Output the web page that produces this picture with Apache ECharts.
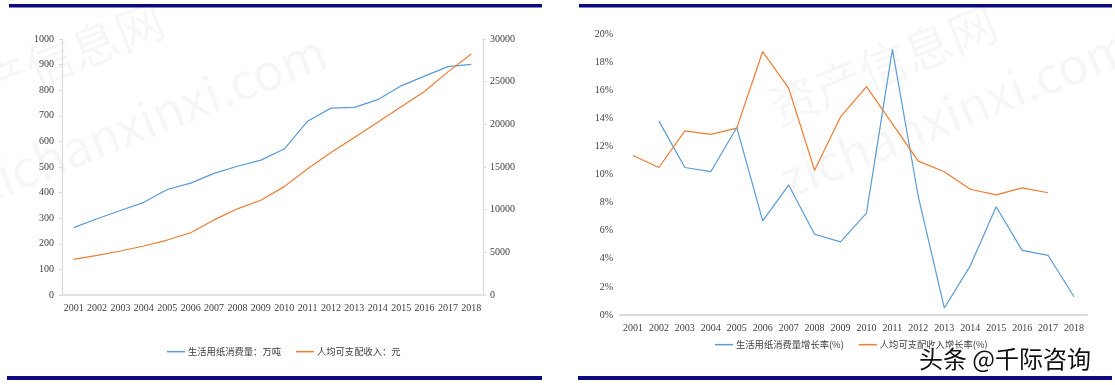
<!DOCTYPE html>
<html>
<head>
<meta charset="utf-8">
<script src="https://cdn.jsdelivr.net/npm/echarts@6/dist/echarts.min.js"></script>
<style>
html,body{margin:0;padding:0;background:#fff;}
#c{width:1115px;height:385px;}
</style>
</head>
<body>
<div id="c"></div>
<script>
var years = ['2001','2002','2003','2004','2005','2006','2007','2008','2009','2010','2011','2012','2013','2014','2015','2016','2017','2018'];
var paperConsumption = [263, 298, 330, 362, 412, 437, 475, 503, 527, 570, 679, 730, 733, 763, 817, 855, 892, 901];
var incomePerCapita = [4180, 4650, 5160, 5740, 6440, 7300, 8800, 10100, 11100, 12700, 14800, 16700, 18450, 20250, 22050, 23850, 26150, 28250];
var paperGrowth = [null, 13.8, 10.5, 10.2, 13.35, 6.7, 9.25, 5.75, 5.2, 7.25, 18.9, 8.4, 0.5, 3.5, 7.7, 4.6, 4.25, 1.3];
var incomeGrowth = [11.35, 10.5, 13.1, 12.85, 13.3, 18.75, 16.15, 10.3, 14.1, 16.25, 13.6, 10.95, 10.2, 8.95, 8.55, 9.05, 8.7, null];
var leftTicks = {min: 0, max: 1000, interval: 100};
var rightTicks = {min: 0, max: 30000, interval: 5000};
var pctTicks = {min: 0, max: 20, interval: 2};
var names = ['生活用纸消费量：万吨', '人均可支配收入：元', '生活用纸消费量增长率(%)', '人均可支配收入增长率(%)'];

var BLUE = '#5B9BD5', ORANGE = '#ED7D31', GRAY = '#D9D9D9', TXT = '#404040';
var serif = 'Liberation Serif';
var cjk = 'Noto Sans CJK SC';

function wm(x, y, text, size) {
  return {type: 'text', x: x, y: y, rotation: 0.38, z: 0, silent: true,
    style: {text: text, font: size + 'px "Noto Sans CJK SC", sans-serif', fill: 'rgba(0,0,0,0.035)', align: 'center', verticalAlign: 'middle'}};
}
function plain(v) { return String(v); }

var chart = echarts.init(document.getElementById('c'), null, {renderer: 'canvas'});
chart.setOption({
  animation: false,
  backgroundColor: '#fff',
  grid: [
    {left: 62, right: 632, top: 39, bottom: 90, containLabel: false},
    {left: 620, right: 28, top: 34, bottom: 70, containLabel: false}
  ],
  xAxis: [
    {type: 'category', gridIndex: 0, data: years, boundaryGap: true,
     axisLine: {lineStyle: {color: GRAY, width: 1.5}}, axisTick: {show: false},
     axisLabel: {margin: 8, interval: 0, color: TXT, fontFamily: serif, fontSize: 10}},
    {type: 'category', gridIndex: 1, data: years, boundaryGap: true,
     axisLine: {lineStyle: {color: GRAY, width: 2}}, axisTick: {show: false},
     axisLabel: {margin: 8, interval: 0, color: TXT, fontFamily: serif, fontSize: 10}}
  ],
  yAxis: [
    {type: 'value', gridIndex: 0, position: 'left', min: leftTicks.min, max: leftTicks.max, interval: leftTicks.interval,
     axisLine: {show: true, lineStyle: {color: GRAY, width: 1.2}}, axisTick: {show: true, length: 3, lineStyle: {color: GRAY}},
     splitLine: {show: false},
     axisLabel: {margin: 8, color: TXT, fontFamily: serif, fontSize: 10, formatter: plain}},
    {type: 'value', gridIndex: 0, position: 'right', min: rightTicks.min, max: rightTicks.max, interval: rightTicks.interval,
     axisLine: {show: true, lineStyle: {color: GRAY, width: 1.2}}, axisTick: {show: true, length: 3, lineStyle: {color: GRAY}},
     splitLine: {show: false},
     axisLabel: {margin: 7, color: TXT, fontFamily: serif, fontSize: 10, formatter: plain}},
    {type: 'value', gridIndex: 1, min: pctTicks.min, max: pctTicks.max, interval: pctTicks.interval,
     axisLine: {show: false}, axisTick: {show: false}, splitLine: {show: false},
     axisLabel: {margin: 7, color: TXT, fontFamily: serif, fontSize: 10, formatter: function (v) { return v + '%'; }}}
  ],
  legend: [
    {left: 167, top: 347, padding: 0, itemWidth: 18, itemHeight: 1.5, itemGap: 15, icon: 'rect',
     data: [names[0], names[1]], textStyle: {color: TXT, fontFamily: cjk, fontSize: 9.3, padding: [0, 0, 0, -2]}},
    {left: 715, top: 340, padding: 0, itemWidth: 18, itemHeight: 1.5, itemGap: 15, icon: 'rect',
     data: [names[2], names[3]], textStyle: {color: TXT, fontFamily: cjk, fontSize: 9.3, padding: [0, 0, 0, -2]}}
  ],
  series: [
    {name: names[0], type: 'line', xAxisIndex: 0, yAxisIndex: 0, data: paperConsumption, symbol: 'none',
     lineStyle: {color: BLUE, width: 1.2}, itemStyle: {color: BLUE}, z: 3},
    {name: names[1], type: 'line', xAxisIndex: 0, yAxisIndex: 1, data: incomePerCapita, symbol: 'none',
     lineStyle: {color: ORANGE, width: 1.2}, itemStyle: {color: ORANGE}, z: 3},
    {name: names[2], type: 'line', xAxisIndex: 1, yAxisIndex: 2, data: paperGrowth, symbol: 'none',
     lineStyle: {color: BLUE, width: 1.2}, itemStyle: {color: BLUE}, z: 3},
    {name: names[3], type: 'line', xAxisIndex: 1, yAxisIndex: 2, data: incomeGrowth, symbol: 'none',
     lineStyle: {color: ORANGE, width: 1.2}, itemStyle: {color: ORANGE}, z: 3}
  ],
  graphic: [
    {type: 'rect', silent: true, shape: {x: 9, y: 4, width: 533, height: 3.5}, style: {fill: '#0D0A80'}},
    {type: 'rect', silent: true, shape: {x: 7, y: 376, width: 535, height: 4}, style: {fill: '#0D0A80'}},
    {type: 'rect', silent: true, shape: {x: 579, y: 4, width: 533, height: 3.5}, style: {fill: '#0D0A80'}},
    {type: 'rect', silent: true, shape: {x: 578, y: 376, width: 534, height: 4}, style: {fill: '#0D0A80'}},
    wm(50, 62, '资产信息网', 48),
    wm(150, 118, 'zichanxinxi.com', 50),
    wm(883, 65, '资产信息网', 48),
    wm(955, 112, 'zichanxinxi.com', 50),
    {type: 'text', x: 1005, y: 359, z: 100, silent: true,
     style: {text: '头条 @千际咨询', font: '400 24px "Noto Sans CJK SC", sans-serif', fill: '#111',
             stroke: '#fff', lineWidth: 3, align: 'center', verticalAlign: 'middle'}}
  ]
});
</script>
</body>
</html>
